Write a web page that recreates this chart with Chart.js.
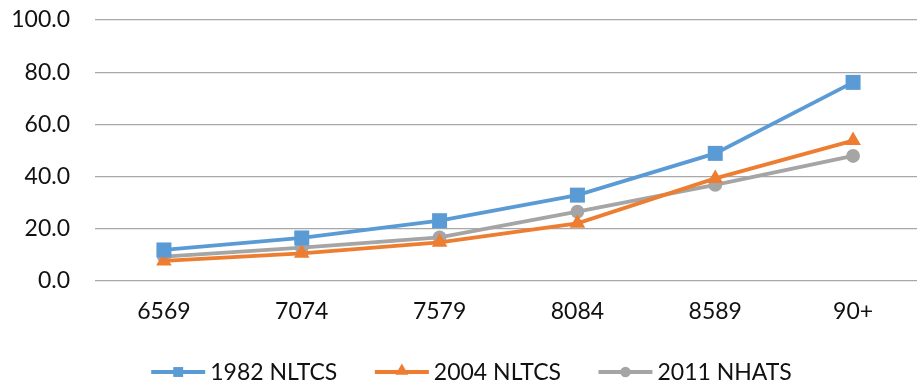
<!DOCTYPE html>
<html>
<head>
<meta charset="utf-8">
<script src="https://cdn.jsdelivr.net/npm/chart.js@4.4.1/dist/chart.umd.min.js"></script>
<style>
  html, body { margin: 0; padding: 0; background: #ffffff; overflow: hidden; }
  /* the plot runs a few pixels past the right edge of the frame */
  #wrap { width: 917px; height: 387px; overflow: hidden; }
  #c { display: block; }
</style>
</head>
<body>
<div id="wrap"><canvas id="c" width="922" height="387"></canvas></div>
<script>
// Age groups and the share of each group per survey
const ageGroups = ['6569', '7074', '7579', '8084', '8589', '90+'];
const nltcs1982 = [11.9, 16.5, 23.1, 32.9, 48.9, 76.1];
const nltcs2004 = [7.7, 10.6, 14.8, 22.1, 39.3, 53.8];
const nhats2011 = [9.3, 12.8, 16.7, 26.6, 36.8, 47.9];
const seriesNames = ['1982 NLTCS', '2004 NLTCS', '2011 NHATS'];
const yMin = 0, yMax = 100, yStep = 20;

const FONT = 'Lato';
const TEXT = '#111111';

function series(label, data, color, style, radius) {
  return {
    label, data,
    borderColor: color,
    backgroundColor: color,
    borderWidth: 3.8,
    pointStyle: style,
    pointRadius: radius,
    pointHoverRadius: radius,
    pointBorderWidth: 0,
    pointBackgroundColor: color,
    tension: 0,
    fill: false,
    clip: false
  };
}

// Legend drawn below the axis: line sample with the series marker, then the name
const lineLegend = {
  id: 'lineLegend',
  afterDraw(chart) {
    const ctx = chart.ctx;
    const sample = 54, gap = 5, spacing = 37.5;
    const cy = 372;
    ctx.save();
    ctx.font = '23px ' + FONT;
    ctx.textBaseline = 'middle';
    ctx.textAlign = 'left';
    const items = chart.data.datasets.map(ds => ({ ds, w: ctx.measureText(ds.label).width }));
    const total = items.reduce((s, it) => s + sample + gap + it.w, 0) + spacing * (items.length - 1);
    let x = 471.5 - total / 2;
    const markerRadius = { rect: 7, triangle: 7.5, circle: 5.2 };
    items.forEach(({ ds, w }) => {
      ctx.strokeStyle = ds.borderColor;
      ctx.lineWidth = 3.8;
      ctx.beginPath();
      ctx.moveTo(x, cy);
      ctx.lineTo(x + sample, cy);
      ctx.stroke();
      ctx.fillStyle = ds.backgroundColor;
      Chart.helpers.drawPoint(ctx, {
        pointStyle: ds.pointStyle,
        radius: markerRadius[ds.pointStyle],
        borderWidth: 0,
        rotation: 0
      }, x + sample / 2, ds.pointStyle === 'triangle' ? cy - 1 : cy);
      ctx.fillStyle = TEXT;
      ctx.fillText(ds.label, x + sample + gap, cy + 1);
      x += sample + gap + w + spacing;
    });
    ctx.restore();
  }
};

function noScalePadding(scale) {
  scale.paddingTop = 0;
  scale.paddingBottom = 0;
  scale.paddingLeft = 0;
  scale.paddingRight = 0;
}

new Chart(document.getElementById('c'), {
  type: 'line',
  data: {
    labels: ageGroups,
    datasets: [
      series(seriesNames[0], nltcs1982, '#5B9BD5', 'rect', 10.6),
      series(seriesNames[1], nltcs2004, '#ED7D31', 'triangle', 9),
      series(seriesNames[2], nhats2011, '#A5A5A5', 'circle', 6.9)
    ]
  },
  options: {
    responsive: false,
    devicePixelRatio: 1,
    animation: false,
    layout: { autoPadding: false, padding: { top: 20, right: 0, bottom: 0, left: 0 } },
    plugins: {
      legend: { display: false },
      tooltip: { enabled: false }
    },
    scales: {
      x: {
        offset: true,
        grid: { display: false, drawTicks: false },
        border: { display: false },
        ticks: {
          padding: 17,
          color: TEXT,
          font: { family: FONT, size: 23 },
          maxRotation: 0,
          autoSkip: false
        },
        afterFit(scale) { scale.height = 106; noScalePadding(scale); }
      },
      y: {
        min: yMin,
        max: yMax,
        grid: { color: '#a8a8a8', lineWidth: 1.2, drawTicks: false },
        border: { display: false },
        ticks: {
          stepSize: yStep,
          padding: 25,
          color: TEXT,
          font: { family: FONT, size: 23 },
          callback: v => Number(v).toFixed(1)
        },
        afterFit(scale) { scale.width = 95; noScalePadding(scale); }
      }
    }
  },
  plugins: [lineLegend]
});
</script>
</body>
</html>
